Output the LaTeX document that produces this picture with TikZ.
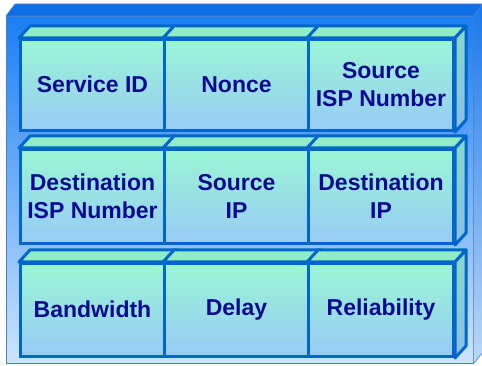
\documentclass[tikz,border=0pt]{standalone}
\usepackage{fontspec}
\setmainfont{Liberation Sans}
\usetikzlibrary{calc}

\definecolor{edgeblue}{HTML}{0066CC}
\definecolor{cellTop}{HTML}{9AF6D4}
\definecolor{cellBot}{HTML}{98CAF6}
\definecolor{cellLid}{HTML}{90ECC2}
\definecolor{cellSideTop}{HTML}{88D8C6}
\definecolor{cellSideBot}{HTML}{8CC0E6}
\definecolor{frameTop}{HTML}{1A7EF4}
\definecolor{frameBot}{HTML}{CCE4FC}
\definecolor{frameLid}{HTML}{0F6FE6}
\definecolor{frameSideTop}{HTML}{1A78EA}
\definecolor{frameSideBot}{HTML}{BCD8F6}
\definecolor{frameEdge}{HTML}{4A80C8}
\definecolor{textnavy}{HTML}{0A0A90}

\tikzset{
  cell/.style={draw=edgeblue, line width=3pt, top color=cellTop, bottom color=cellBot,
    minimum width=144pt, inner sep=0pt, anchor=north west, align=center,
    text=textnavy, font=\bfseries\fontsize{23}{28}\selectfont},
  lid/.style={draw=edgeblue, line width=3pt, fill=cellLid, line join=round},
  side/.style={draw=edgeblue, line width=3pt, top color=cellSideTop, bottom color=cellSideBot, line join=round},
}

% top face of a cell, drawn above its front face
\newcommand{\celllid}[1]{%
  \draw[lid] (#1.north west) -- ++(11,-12) -- ($(#1.north east)+(11,-12)$) -- (#1.north east) -- cycle;}
% right face of the last cell in a row
\newcommand{\cellside}[1]{%
  \draw[side] (#1.north east) -- ++(11,-12) -- ($(#1.south east)+(11,-12)$) -- (#1.south east) -- cycle;}

\begin{document}
\begin{tikzpicture}[x=1pt, y=-1pt]
\useasboundingbox (0,0) rectangle (482,366);

% outer casing
\node[draw=frameEdge, line width=0.6pt, top color=frameTop, bottom color=frameBot,
  minimum width=467pt, minimum height=347pt, inner sep=0pt, anchor=north west] (frame) at (6,16) {};
\draw[draw=frameEdge, line width=0.6pt, fill=frameLid]
  (frame.north west) -- ++(9,-12) -- ($(frame.north east)+(9,-12)$) -- (frame.north east) -- cycle;
\draw[draw=frameEdge, line width=0.6pt, top color=frameSideTop, bottom color=frameSideBot]
  (frame.north east) -- ++(9,-12) -- ($(frame.south east)+(9,-11)$) -- (frame.south east) -- cycle;

% first row
\node[cell, minimum height=91pt] (c11) at (19,38) {\raisebox{1.5pt}{Service ID}};
\celllid{c11}
\node[cell, minimum height=91pt] (c12) at (163,38) {\raisebox{1.5pt}{Nonce}};
\celllid{c12}
\node[cell, minimum height=91pt, minimum width=145pt] (c13) at (307,38) {Source\\ISP Number};
\celllid{c13}
\cellside{c13}

% second row
\node[cell, minimum height=94pt] (c21) at (19,148) {Destination\\ISP Number};
\celllid{c21}
\node[cell, minimum height=94pt] (c22) at (163,148) {Source\\IP};
\celllid{c22}
\node[cell, minimum height=94pt, minimum width=145pt] (c23) at (307,148) {Destination\\IP};
\celllid{c23}
\cellside{c23}

% third row
\node[cell, minimum height=93pt] (c31) at (19,262) {\raisebox{1.5pt}{Bandwidth}};
\celllid{c31}
\node[cell, minimum height=93pt] (c32) at (163,262) {\raisebox{1.5pt}{Delay}};
\celllid{c32}
\node[cell, minimum height=93pt, minimum width=145pt] (c33) at (307,262) {\raisebox{1.5pt}{Reliability}};
\celllid{c33}
\cellside{c33}
\end{tikzpicture}
\end{document}
